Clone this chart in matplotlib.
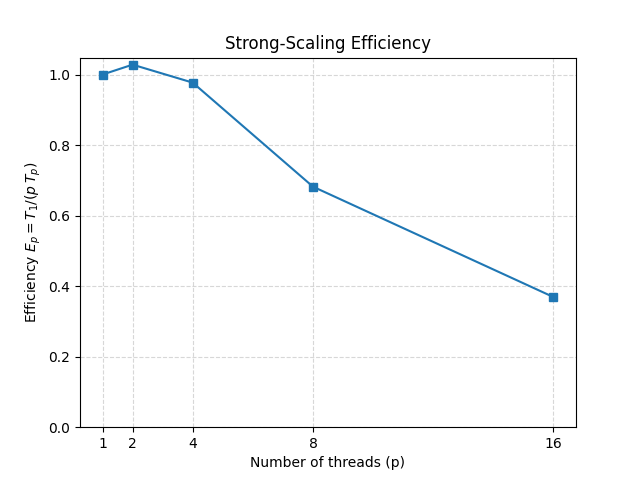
import matplotlib
matplotlib.use("Agg")
import matplotlib.pyplot as plt

threads = [1, 2, 4, 8, 16]
efficiency = [1.0, 1.028, 0.977, 0.682, 0.369]

fig, ax = plt.subplots(figsize=(6.4, 4.8), dpi=100)
ax.plot(threads, efficiency, marker="s")
ax.set_xticks(threads)
ax.set_ylim(0, 1.048)
ax.set_xlabel("Number of threads (p)")
ax.set_ylabel(r"Efficiency $E_p = T_1 / (p\,T_p)$")
ax.set_title("Strong-Scaling Efficiency")
ax.grid(True, linestyle="--", alpha=0.5)
fig.savefig("out.png")
